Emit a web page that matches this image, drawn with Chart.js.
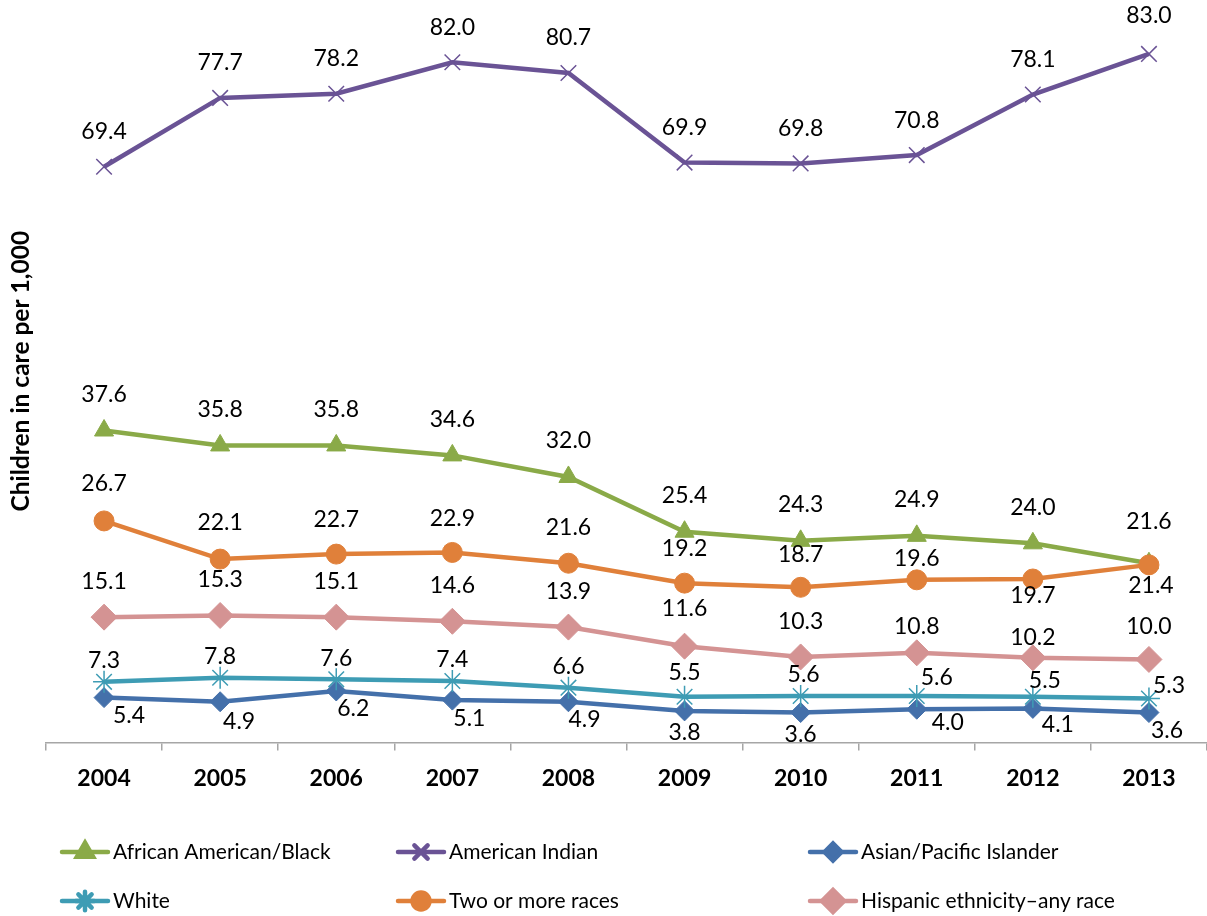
<!DOCTYPE html>
<html>
<head>
<meta charset="utf-8">
<script src="https://cdn.jsdelivr.net/npm/chart.js@4.4.1/dist/chart.umd.min.js"></script>
<style>
    html, body { margin: 0; padding: 0; background: #fff; }
    #wrap { width: 1207px; height: 916px; position: relative; }
</style>
</head>
<body>
<div id="wrap"><canvas id="careChart"></canvas></div>
<script>
// Chart values
const years = ['2004', '2005', '2006', '2007', '2008', '2009', '2010', '2011', '2012', '2013'];
const africanAmerican = [37.6, 35.8, 35.8, 34.6, 32.0, 25.4, 24.3, 24.9, 24.0, 21.6];
const americanIndian = [69.4, 77.7, 78.2, 82.0, 80.7, 69.9, 69.8, 70.8, 78.1, 83.0];
const asianPacific = [5.4, 4.9, 6.2, 5.1, 4.9, 3.8, 3.6, 4.0, 4.1, 3.6];
const white = [7.3, 7.8, 7.6, 7.4, 6.6, 5.5, 5.6, 5.6, 5.5, 5.3];
const twoOrMore = [26.7, 22.1, 22.7, 22.9, 21.6, 19.2, 18.7, 19.6, 19.7, 21.4];
const hispanic = [15.1, 15.3, 15.1, 14.6, 13.9, 11.6, 10.3, 10.8, 10.2, 10.0];
const seriesNames = ['African American/Black', 'American Indian', 'Asian/Pacific Islander',
    'White', 'Two or more races', 'Hispanic ethnicity\u2013any race'];

const FONT = 'Lato, "Open Sans", sans-serif';

// look of each series (marker, colour) + where its value labels sit
const seriesStyles = [
    { color: '#8AAA48', point: 'triangle', radius: 11, pointWidth: 1,
      dx: [0, 0, 0, 0, 0, 0, 0, 0, 0, 0], dy: [-36, -36, -36, -36, -36, -36, -36, -36, -36, -42] },
    { color: '#6A5395', point: 'crossRot', radius: 11, pointWidth: 1.5,
      dx: [0, 0, 0, 0, 0, 0, 0, 0, 0, 0], dy: [-35, -35, -35, -35, -35, -35, -35, -35, -35, -38] },
    { color: '#4470AA', point: 'rectRot', radius: 10, pointWidth: 1,
      dx: [25, 19, 17, 17, 16, 0, 0, 31, 25, 18], dy: [18, 20, 18, 18, 18, 22, 22, 13, 16, 18] },
    { color: '#3E9CB4', point: 'star', radius: 11, pointWidth: 1.5,
      dx: [0, 0, 0, 0, 0, 0, 3, 20, 12, 20], dy: [-21, -21, -21, -21, -21, -24, -21, -18, -16, -13] },
    { color: '#E0803A', point: 'circle', radius: 10, pointWidth: 1,
      dx: [0, 0, 0, 0, 0, 0, 0, 0, 0, 2], dy: [-37, -37, -35, -34, -36, -35, -33, -21, 17, 21] },
    { color: '#D49393', point: 'rectRot', radius: 13, pointWidth: 1,
      dx: [0, 0, 0, 0, 0, 0, 0, 0, 0, 0], dy: [-36, -36, -36, -36, -36, -38, -35, -26, -20, -33] }
];
const seriesValues = [africanAmerican, americanIndian, asianPacific, white, twoOrMore, hispanic];

// value labels next to every point
const valueLabels = {
    id: 'valueLabels',
    afterDatasetsDraw(chart) {
        const ctx = chart.ctx;
        ctx.save();
        ctx.font = '23px ' + FONT;
        ctx.fillStyle = '#000';
        ctx.textAlign = 'center';
        ctx.textBaseline = 'middle';
        chart.data.datasets.forEach((ds, i) => {
            const st = seriesStyles[i];
            chart.getDatasetMeta(i).data.forEach((pt, j) => {
                ctx.fillText(ds.data[j].toFixed(1), pt.x + st.dx[j], pt.y + st.dy[j]);
            });
        });
        ctx.restore();
    }
};

// legend in 3 columns, line + marker like the original
const lineLegend = {
    id: 'lineLegend',
    afterDraw(chart) {
        const ctx = chart.ctx;
        const cols = [62, 398, 810];
        const rows = [852, 901];
        ctx.save();
        seriesNames.forEach((name, i) => {
            const st = seriesStyles[i];
            const x = cols[i % 3];
            const y = rows[Math.floor(i / 3)];
            ctx.strokeStyle = st.color;
            ctx.lineWidth = 4.5;
            ctx.lineCap = 'round';
            ctx.beginPath();
            ctx.moveTo(x, y);
            ctx.lineTo(x + 46, y);
            ctx.stroke();
            ctx.fillStyle = st.color;
            Chart.helpers.drawPoint(ctx, {
                pointStyle: st.point, rotation: 0,
                radius: st.radius * 0.85, borderWidth: st.pointWidth
            }, x + 23, y);
            ctx.fillStyle = '#000';
            ctx.font = '21px ' + FONT;
            ctx.textAlign = 'left';
            ctx.textBaseline = 'middle';
            ctx.fillText(name, x + 51, y);
        });
        ctx.restore();
    }
};

document.addEventListener('DOMContentLoaded', function () {
    const datasets = seriesNames.map((name, i) => ({
        label: name,
        data: seriesValues[i],
        borderColor: seriesStyles[i].color,
        backgroundColor: seriesStyles[i].color,
        borderWidth: 4.5,
        pointStyle: seriesStyles[i].point,
        pointRadius: seriesStyles[i].radius,
        pointBorderWidth: seriesStyles[i].pointWidth,
        pointBackgroundColor: seriesStyles[i].color,
        pointBorderColor: seriesStyles[i].color,
        tension: 0,
        clip: false,
        order: seriesNames.length - i
    }));

    new Chart(document.getElementById('careChart'), {
        type: 'line',
        data: { labels: years, datasets: datasets },
        options: {
            responsive: true,
            maintainAspectRatio: false,
            animation: false,
            layout: {
                autoPadding: false,
                padding: { top: 0, right: 0, bottom: 110, left: 0 }
            },
            plugins: {
                legend: { display: false },
                tooltip: { enabled: false }
            },
            scales: {
                x: {
                    offset: true,
                    grid: {
                        offset: true,
                        drawOnChartArea: false,
                        drawTicks: true,
                        tickLength: 8,
                        color: '#A6A6A6',
                        lineWidth: 1.5
                    },
                    border: { color: '#A6A6A6', width: 1.5 },
                    ticks: {
                        color: '#000',
                        padding: 14,
                        font: { family: FONT, size: 23, weight: 'bold' }
                    },
                    afterFit(scale) {
                        scale.paddingLeft = 0;
                        scale.paddingRight = 0;
                    }
                },
                y: {
                    min: 0,
                    max: 89.5,
                    grid: { display: false },
                    border: { display: false },
                    ticks: { display: false },
                    title: {
                        display: true,
                        text: 'Children in care per 1,000',
                        color: '#000',
                        padding: { top: 6, bottom: 0 },
                        font: { family: FONT, size: 24.5, weight: 'bold' }
                    },
                    afterFit(scale) { scale.width = 46; }
                }
            }
        },
        plugins: [valueLabels, lineLegend]
    });
});
</script>
</body>
</html>
